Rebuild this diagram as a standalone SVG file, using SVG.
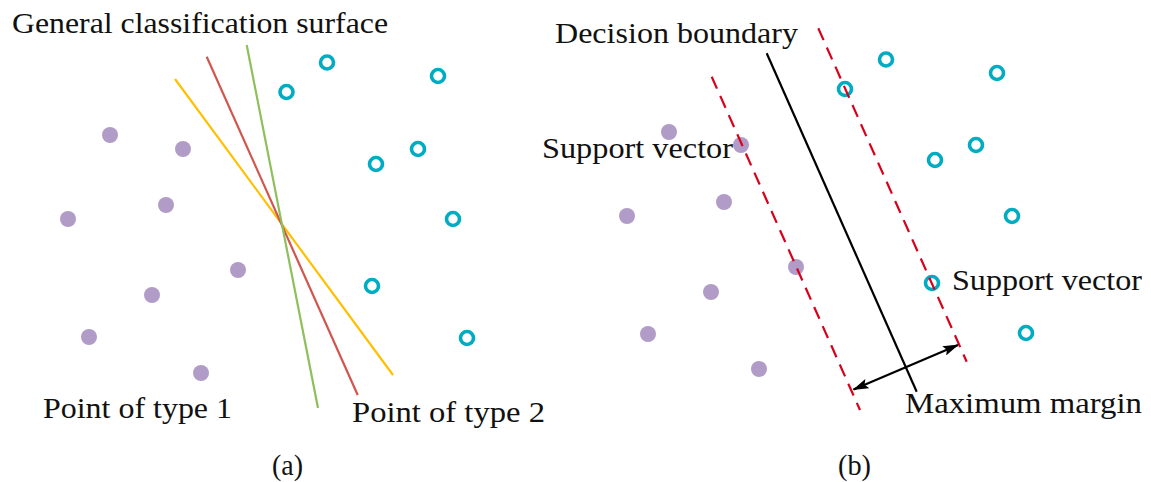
<svg xmlns="http://www.w3.org/2000/svg" width="1151" height="482" viewBox="0 0 1151 482">
<style>
.t{font-family:"Liberation Serif","Times New Roman",serif;font-size:30px;fill:#111}
.p{fill:#b19cc8}
.c{fill:none;stroke:#00acc1;stroke-width:3.6}
.sl{stroke-width:2.2;fill:none}
.dash{stroke:#d9001b;stroke-width:2.2;stroke-dasharray:13 8;fill:none}
</style>
<defs>
<marker id="ah" viewBox="0 0 16 10" refX="15" refY="5" markerWidth="16" markerHeight="10" orient="auto-start-reverse" markerUnits="userSpaceOnUse">
<path d="M0,0 L16,5 L0,10 L3,5 Z" fill="#000"/>
</marker>
</defs>
<rect width="1151" height="482" fill="#fff"/>
<g id="panel-a">
<g id="points-a1">
<circle class="p" cx="110" cy="135" r="8"/>
<circle class="p" cx="183" cy="149" r="8"/>
<circle class="p" cx="68" cy="219" r="8"/>
<circle class="p" cx="166" cy="205" r="8"/>
<circle class="p" cx="238" cy="270" r="8"/>
<circle class="p" cx="152" cy="295" r="8"/>
<circle class="p" cx="89" cy="337" r="8"/>
<circle class="p" cx="201" cy="373" r="8"/>
</g>
<g id="points-a2">
<circle class="c" cx="327" cy="62.5" r="6.5"/>
<circle class="c" cx="286.5" cy="92" r="6.5"/>
<circle class="c" cx="438" cy="76" r="6.5"/>
<circle class="c" cx="376" cy="164" r="6.5"/>
<circle class="c" cx="418" cy="149" r="6.5"/>
<circle class="c" cx="453" cy="219" r="6.5"/>
<circle class="c" cx="372" cy="286" r="6.5"/>
<circle class="c" cx="467" cy="338" r="6.5"/>
</g>
<g id="surfaces">
<line class="sl" x1="175" y1="79" x2="393" y2="375" stroke="#ffc000"/>
<line class="sl" x1="206.7" y1="56.7" x2="357.7" y2="395" stroke="#d0564f"/>
<line class="sl" x1="246.7" y1="45" x2="318" y2="408" stroke="#8dbf5a"/>
</g>
<text class="t" x="12" y="33" textLength="376" lengthAdjust="spacingAndGlyphs">General classification surface</text>
<text class="t" x="43" y="418" textLength="189" lengthAdjust="spacingAndGlyphs">Point of type 1</text>
<text class="t" x="352" y="422" textLength="193" lengthAdjust="spacingAndGlyphs">Point of type 2</text>
<text class="t" x="272" y="475" textLength="31" lengthAdjust="spacingAndGlyphs">(a)</text>
</g>
<g id="panel-b">
<g id="points-b1">
<circle class="p" cx="669" cy="132" r="8"/>
<circle class="p" cx="741" cy="145" r="8"/>
<circle class="p" cx="627" cy="216" r="8"/>
<circle class="p" cx="724" cy="202" r="8"/>
<circle class="p" cx="796" cy="267" r="8"/>
<circle class="p" cx="711" cy="292" r="8"/>
<circle class="p" cx="648" cy="334" r="8"/>
<circle class="p" cx="759" cy="369" r="8"/>
</g>
<g id="points-b2">
<circle class="c" cx="886" cy="59.5" r="6.5"/>
<circle class="c" cx="845" cy="89" r="6.5"/>
<circle class="c" cx="997" cy="73" r="6.5"/>
<circle class="c" cx="935" cy="160" r="6.5"/>
<circle class="c" cx="976" cy="145" r="6.5"/>
<circle class="c" cx="1012" cy="216" r="6.5"/>
<circle class="c" cx="932" cy="283" r="6.5"/>
<circle class="c" cx="1026" cy="333" r="6.5"/>
</g>
<g id="connectors">
<line class="dash" x1="711.7" y1="76.7" x2="860" y2="410"/>
<line class="dash" x1="818.3" y1="28.3" x2="966.7" y2="361.7"/>
<line class="sl" x1="766.7" y1="53.3" x2="916.7" y2="391.7" stroke="#000"/>
<line class="sl" x1="853.5" y1="389.5" x2="958" y2="345" stroke="#000" marker-start="url(#ah)" marker-end="url(#ah)"/>
</g>
<text class="t" x="555" y="43" textLength="243" lengthAdjust="spacingAndGlyphs">Decision boundary</text>
<text class="t" x="542" y="158" textLength="191" lengthAdjust="spacingAndGlyphs">Support vector</text>
<text class="t" x="952" y="290" textLength="190" lengthAdjust="spacingAndGlyphs">Support vector</text>
<text class="t" x="905" y="413" textLength="237" lengthAdjust="spacingAndGlyphs">Maximum margin</text>
<text class="t" x="838" y="475" textLength="33" lengthAdjust="spacingAndGlyphs">(b)</text>
</g>
</svg>
